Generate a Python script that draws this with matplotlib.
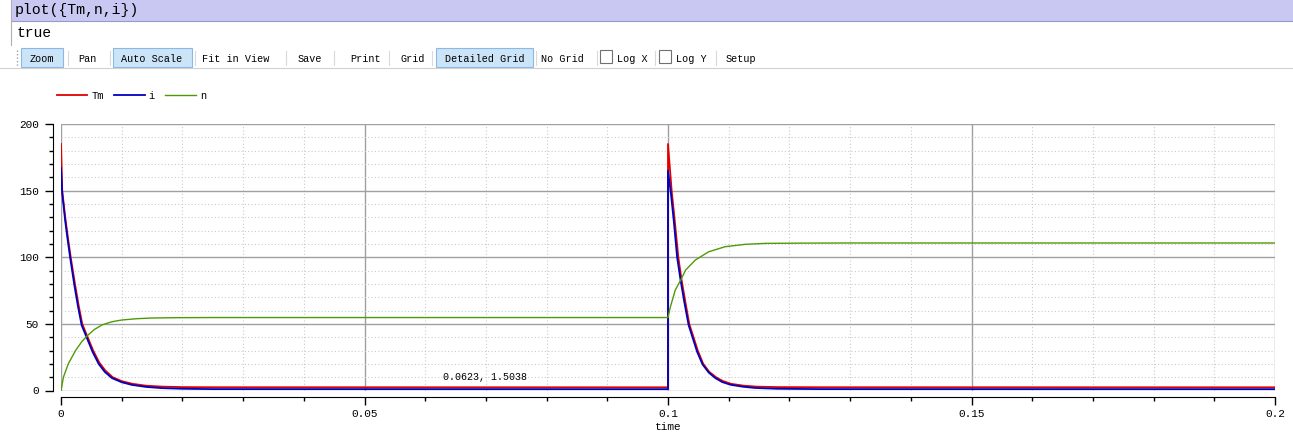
import matplotlib
matplotlib.use("Agg")
import matplotlib.pyplot as plt
from matplotlib.patches import Rectangle
from matplotlib.lines import Line2D
from matplotlib.ticker import MultipleLocator, FuncFormatter

# values
time_tm = [0, 0.0002, 0.0007, 0.0011, 0.0016, 0.0023, 0.0029, 0.0035, 0.0043,
           0.0053, 0.0063, 0.0073, 0.0085, 0.0100, 0.0118, 0.0140, 0.0167,
           0.0200, 0.0250, 0.1,
           0.1, 0.1006, 0.1011, 0.1017, 0.1022, 0.1028, 0.1035, 0.1042, 0.1049,
           0.1058, 0.1068, 0.1079, 0.1090, 0.1104, 0.1125, 0.1146, 0.1180,
           0.1250, 0.2]
tm_values = [185, 150, 130, 116, 100, 80, 64, 50, 41,
             30, 21, 15, 10, 7, 5, 3.6, 2.9,
             2.55, 2.45, 2.4,
             185, 150, 128, 100, 84, 68, 50, 40, 30,
             20, 14, 10, 7.2, 5, 3.6, 2.9, 2.55,
             2.45, 2.4]

time_i = [0, 0.0002, 0.0007, 0.0011, 0.0015, 0.0022, 0.0028, 0.0034, 0.0043,
          0.0052, 0.0062, 0.0072, 0.0084, 0.0100, 0.0117, 0.0140, 0.0166,
          0.0200, 0.0250, 0.1,
          0.1, 0.1005, 0.1010, 0.1015, 0.1021, 0.1027, 0.1034, 0.1041, 0.1048,
          0.1057, 0.1067, 0.1078, 0.1089, 0.1103, 0.1124, 0.1144, 0.1180,
          0.1250, 0.2]
i_values = [167, 148, 127, 113, 100, 79, 63, 49, 39,
            29, 20, 14, 9.3, 6.2, 4.2, 2.7, 1.8,
            1.3, 1.05, 1.0,
            165, 147, 125, 100, 82, 66, 49, 39, 29,
            19.5, 13.5, 9.3, 6.4, 4.3, 2.8, 1.9, 1.3,
            1.05, 1.0]

time_n = [0, 0.0004, 0.0012, 0.0024, 0.0034, 0.0043, 0.0055, 0.0068, 0.0084,
          0.0100, 0.0125, 0.0150, 0.0190, 0.0250, 0.1,
          0.1004, 0.1012, 0.1021, 0.1029, 0.1045, 0.1067, 0.1094, 0.1127,
          0.1160, 0.1220, 0.1300, 0.2]
n_values = [0, 10, 20, 30, 36.5, 41, 45.8, 49.3, 51.6,
            52.9, 53.9, 54.4, 54.65, 54.75, 54.75,
            62.9, 75.4, 82.9, 90.4, 97.9, 104.1, 107.9, 109.7,
            110.4, 110.6, 110.7, 110.7]

toolbar_labels = ["Zoom", "Pan", "Auto Scale", "Fit in View", "Save", "Print",
                  "Grid", "Detailed Grid", "No Grid", "Log X", "Log Y", "Setup"]
toolbar_x = [42, 87.5, 152, 235.5, 309.5, 366, 412.5, 484.5, 562, 632.5, 691, 741]
toolbar_on = ["Zoom", "Auto Scale", "Detailed Grid"]

W, H = 1293, 440
mono = "Liberation Mono"

fig = plt.figure(figsize=(W / 100, H / 100), dpi=100)
fig.patch.set_facecolor("white")


def fx(x):
    return x / W


def fy(y):
    return 1 - y / H


def rect(x, y, w, h, **kw):
    fig.patches.append(Rectangle((fx(x), fy(y + h)), w / W, h / H,
                                 transform=fig.transFigure, **kw))


def hline(x0, x1, y, **kw):
    fig.add_artist(Line2D([fx(x0), fx(x1)], [fy(y), fy(y)],
                          transform=fig.transFigure, **kw))


def vline(x, y0, y1, **kw):
    fig.add_artist(Line2D([fx(x), fx(x)], [fy(y0), fy(y1)],
                          transform=fig.transFigure, **kw))


# command line and result
rect(11, 0, W - 11, 21, facecolor="#c8c8f2", edgecolor="none")
hline(11, W, 21, color="#9a9ac8", lw=0.8)
vline(11, 0, 45, color="#b0b0b0", lw=0.8)
fig.text(fx(15), fy(10), "plot({Tm,n,i})", family=mono, fontsize=10.7,
         va="center", ha="left")
fig.text(fx(17), fy(33), "true", family=mono, fontsize=10.5,
         va="center", ha="left")

# toolbar
vline(16.5, 50, 66, color="#a0a0a0", lw=1, linestyle=(0, (1, 1.5)))
for lab, cx in zip(toolbar_labels, toolbar_x):
    if lab in toolbar_on:
        w = len(lab) * 6.1 + 18
        rect(cx - w / 2, 48, w, 19, facecolor="#cce4f7", edgecolor="#8ab9e6", lw=0.8)
    fig.text(fx(cx), fy(58.5), lab, family=mono, fontsize=7.3,
             ha="center", va="center")
for sx in [68, 110, 195, 286, 334, 389, 432, 536, 597, 655, 716]:
    vline(sx, 51, 65, color="#dadada", lw=0.8)
for bx in [600, 659]:
    rect(bx, 50, 12, 13, facecolor="white", edgecolor="#707070", lw=0.8)
hline(0, W, 68.5, color="#d0d0d0", lw=0.8)

# plot canvas
ax = fig.add_axes([fx(61), fy(390.5), (1275 - 61) / W, (390.5 - 124) / H])
ax.plot(time_tm, tm_values, color="#e00000", lw=1.3, label="Tm")
ax.plot(time_i, i_values, color="#0000c0", lw=1.3, label="i")
ax.plot(time_n, n_values, color="#4e9a06", lw=1.0, label="n")

ax.set_xlim(0, 0.2)
ax.set_ylim(0, 200)
ax.xaxis.set_major_locator(MultipleLocator(0.05))
ax.xaxis.set_minor_locator(MultipleLocator(0.01))
ax.yaxis.set_major_locator(MultipleLocator(50))
ax.yaxis.set_minor_locator(MultipleLocator(10))
ax.xaxis.set_major_formatter(FuncFormatter(lambda v, p: f"{v:g}"))
ax.yaxis.set_major_formatter(FuncFormatter(lambda v, p: f"{v:g}"))

ax.grid(which="major", color="#a0a0a0", lw=1.0, linestyle="-")
ax.grid(which="minor", color="#cbcbcb", lw=0.8, linestyle=(0, (1, 2)))
ax.set_axisbelow(True)

for s in ["top", "right"]:
    ax.spines[s].set_visible(False)
ax.spines["left"].set_position(("outward", 6))
ax.spines["bottom"].set_position(("outward", 4.5))
ax.tick_params(which="major", length=5.8, width=1, direction="out", labelsize=8)
ax.tick_params(which="minor", length=2.6, width=1, direction="out")
ax.tick_params(axis="y", pad=4.3)
ax.tick_params(axis="x", pad=3.2)
for t in ax.get_xticklabels() + ax.get_yticklabels():
    t.set_family(mono)
ax.set_xlabel("time", family=mono, fontsize=8, labelpad=2)

ax.legend(loc="center left", bbox_to_anchor=(fx(57), fy(96)),
          bbox_transform=fig.transFigure, ncol=3, frameon=False,
          prop={"family": mono, "size": 7.5}, handlelength=2.9,
          handletextpad=0.4, columnspacing=1.0, borderpad=0, borderaxespad=0)

fig.text(fx(443), fy(377), "0.0623, 1.5038", family=mono, fontsize=7.2,
         ha="left", va="center")

fig.savefig("out.png", dpi=100)
